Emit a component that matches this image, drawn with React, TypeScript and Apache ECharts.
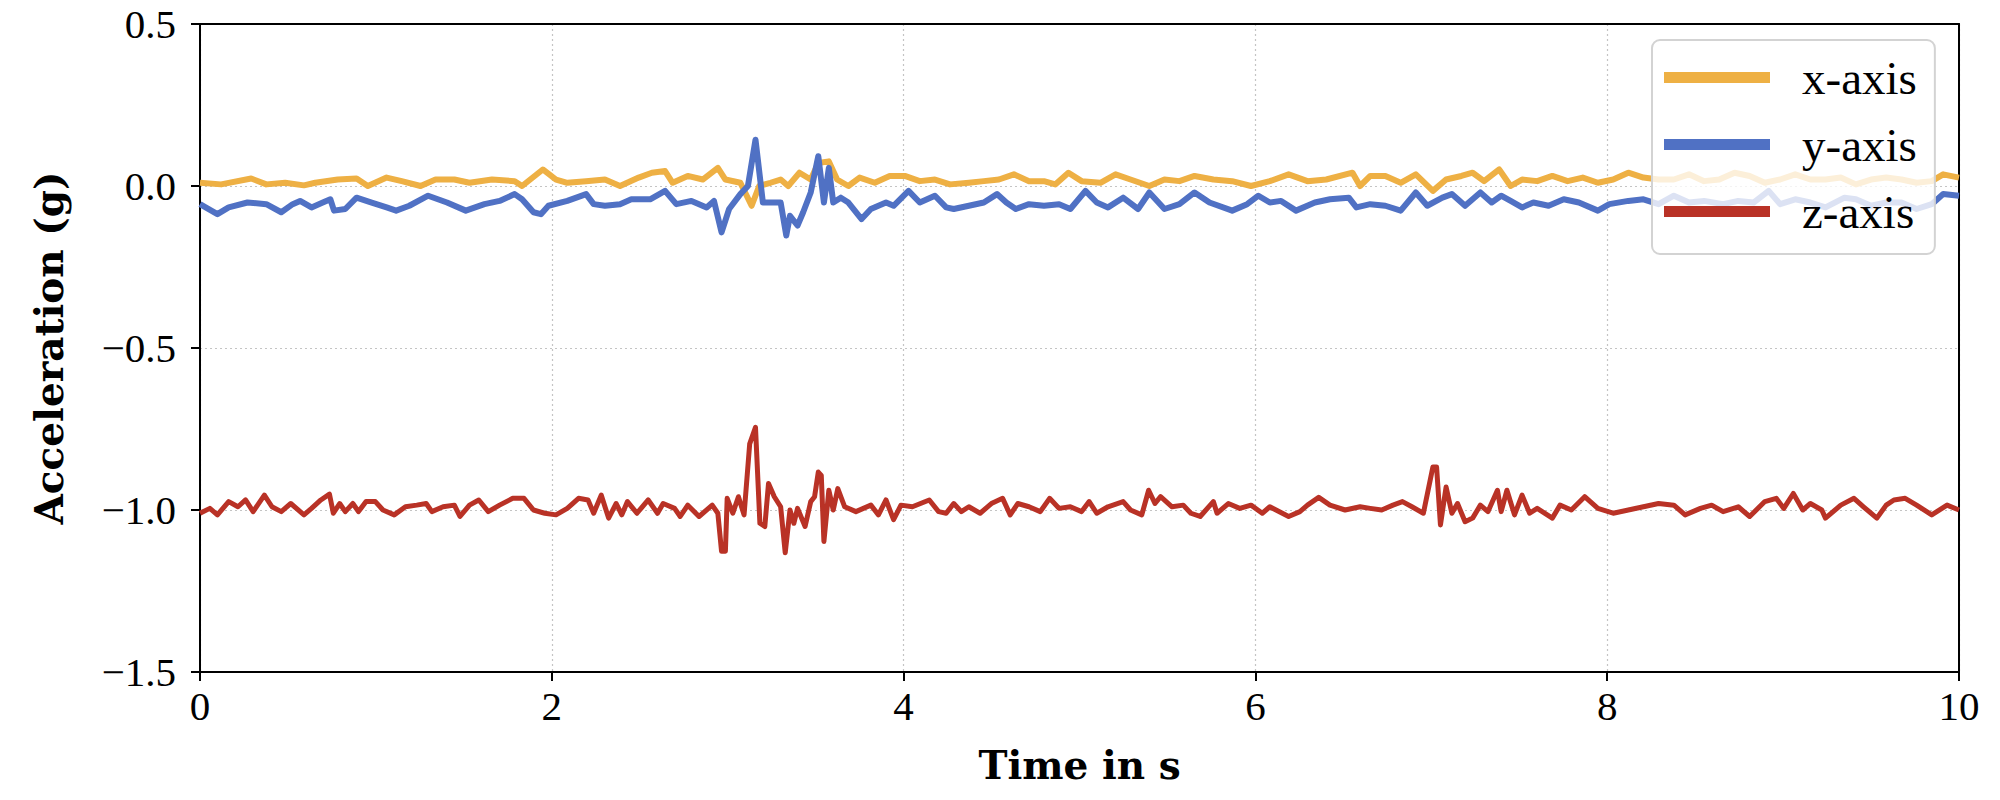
import React, { useEffect, useRef } from "react";
import * as echarts from "echarts";

const seriesNames = ["x-axis", "y-axis", "z-axis"];
const seriesColors = ["#EEB044", "#5071C4", "#B93226"];

// [time in s, acceleration in g]
const xAxisAccel = [
  [0, 0.010], [0.120, 0.005], [0.291, 0.023], [0.377, 0.005], [0.484, 0.010], [0.591, 0.002], [0.655, 0.010], [0.783, 0.020], [0.890, 0.023], [0.954, 0.000],
  [1.061, 0.026], [1.147, 0.015], [1.254, 0.000], [1.339, 0.020], [1.446, 0.020], [1.532, 0.010], [1.660, 0.020], [1.789, 0.015], [1.831, 0.000], [1.949, 0.051],
  [2.024, 0.020], [2.088, 0.010], [2.195, 0.015], [2.302, 0.020], [2.388, 0.000], [2.494, 0.026], [2.569, 0.041], [2.644, 0.046], [2.687, 0.010], [2.773, 0.031],
  [2.858, 0.020], [2.944, 0.056], [2.987, 0.020], [3.072, 0.010], [3.136, -0.061], [3.179, 0.000], [3.243, 0.010],
  [3.301, 0.020], [3.344, 0.000], [3.408, 0.041], [3.472, 0.020], [3.515, 0.071], [3.575, 0.076], [3.622, 0.020], [3.686, 0.000], [3.750, 0.026], [3.836, 0.010],
  [3.921, 0.031], [4.007, 0.031], [4.092, 0.015], [4.178, 0.020], [4.264, 0.005], [4.371, 0.010], [4.456, 0.015], [4.542, 0.020], [4.627, 0.036], [4.713, 0.015],
  [4.798, 0.015], [4.862, 0.005], [4.937, 0.041], [5.012, 0.015], [5.119, 0.010], [5.205, 0.036], [5.290, 0.020], [5.397, 0.000], [5.483, 0.020], [5.568, 0.015],
  [5.654, 0.031], [5.761, 0.020], [5.868, 0.015], [5.975, 0.000], [6.082, 0.015], [6.189, 0.036], [6.296, 0.015], [6.403, 0.020], [6.552, 0.041], [6.595, 0.000],
  [6.653, 0.031], [6.739, 0.031], [6.826, 0.010], [6.912, 0.036], [7.009, -0.015], [7.084, 0.020], [7.171, 0.031], [7.235, 0.041], [7.300, 0.015], [7.386, 0.051],
  [7.451, 0.000], [7.516, 0.020], [7.602, 0.015], [7.688, 0.031], [7.775, 0.015], [7.861, 0.026], [7.947, 0.010], [8.034, 0.020], [8.120, 0.041], [8.206, 0.026],
  [8.292, 0.020], [8.379, 0.020], [8.465, 0.036], [8.551, 0.015], [8.637, 0.020], [8.724, 0.041], [8.810, 0.031], [8.896, 0.010], [8.983, 0.020], [9.069, 0.036],
  [9.155, 0.020], [9.241, 0.020], [9.328, 0.026], [9.414, 0.005], [9.500, 0.020], [9.586, 0.026], [9.673, 0.020], [9.759, 0.010], [9.845, 0.015], [9.910, 0.036],
  [10.0, 0.026],
];

const yAxisAccel = [
  [0, -0.056], [0.099, -0.087], [0.163, -0.066], [0.270, -0.051], [0.377, -0.056], [0.462, -0.081], [0.527, -0.056], [0.569, -0.046], [0.634, -0.066], [0.698, -0.051],
  [0.741, -0.041], [0.762, -0.076], [0.826, -0.071], [0.890, -0.036], [0.976, -0.051], [1.061, -0.066], [1.115, -0.076], [1.190, -0.061], [1.297, -0.030], [1.404, -0.051],
  [1.511, -0.076], [1.617, -0.056], [1.703, -0.046], [1.789, -0.025], [1.831, -0.041], [1.896, -0.081], [1.938, -0.087], [1.981, -0.061], [2.088, -0.046], [2.195, -0.025],
  [2.238, -0.056], [2.302, -0.061], [2.388, -0.056], [2.452, -0.041], [2.559, -0.041], [2.644, -0.015], [2.708, -0.056], [2.794, -0.046], [2.880, -0.066], [2.922, -0.046],
  [2.965, -0.143], [3.008, -0.071], [3.072, -0.025], [3.115, 0.000], [3.158, 0.143], [3.200, -0.051], [3.265, -0.051],
  [3.301, -0.051], [3.333, -0.153], [3.354, -0.092], [3.397, -0.122], [3.429, -0.081], [3.472, -0.020], [3.515, 0.092], [3.547, -0.051], [3.575, 0.056], [3.600, -0.051],
  [3.643, -0.036], [3.686, -0.051], [3.761, -0.102], [3.814, -0.071], [3.900, -0.051], [3.943, -0.061], [4.028, -0.015], [4.092, -0.051], [4.178, -0.030], [4.242, -0.066],
  [4.285, -0.071], [4.371, -0.061], [4.456, -0.051], [4.531, -0.025], [4.584, -0.051], [4.638, -0.071], [4.713, -0.056], [4.798, -0.061], [4.884, -0.056], [4.948, -0.071],
  [5.034, -0.015], [5.098, -0.051], [5.162, -0.066], [5.248, -0.036], [5.333, -0.071], [5.397, -0.020], [5.483, -0.071], [5.568, -0.056], [5.654, -0.020], [5.739, -0.051],
  [5.868, -0.076], [5.953, -0.056], [6.017, -0.030], [6.082, -0.051], [6.146, -0.046], [6.231, -0.076], [6.338, -0.051], [6.424, -0.041], [6.531, -0.036], [6.574, -0.066],
  [6.653, -0.056], [6.739, -0.061], [6.826, -0.076], [6.912, -0.020], [6.977, -0.061], [7.063, -0.036], [7.117, -0.025], [7.192, -0.061], [7.279, -0.020], [7.343, -0.051],
  [7.397, -0.030], [7.451, -0.046], [7.516, -0.066], [7.580, -0.051], [7.667, -0.061], [7.753, -0.041], [7.839, -0.051], [7.947, -0.076], [8.012, -0.056], [8.120, -0.046],
  [8.206, -0.041], [8.292, -0.056], [8.379, -0.030], [8.465, -0.051], [8.551, -0.046], [8.659, -0.056], [8.745, -0.046], [8.832, -0.051], [8.918, -0.015], [8.983, -0.056],
  [9.069, -0.041], [9.155, -0.051], [9.241, -0.066], [9.349, -0.036], [9.414, -0.041], [9.500, -0.061], [9.586, -0.051], [9.673, -0.051], [9.759, -0.071], [9.845, -0.056],
  [9.910, -0.025], [10.0, -0.030],
];

const zAxisAccel = [
  [0, -1.010], [0.056, -0.995], [0.099, -1.015], [0.163, -0.974], [0.216, -0.990], [0.259, -0.969], [0.302, -1.005], [0.366, -0.954], [0.409, -0.990], [0.462, -1.005],
  [0.516, -0.980], [0.591, -1.015], [0.634, -0.995], [0.687, -0.969], [0.736, -0.951], [0.758, -1.010], [0.794, -0.980], [0.826, -1.005], [0.869, -0.980], [0.901, -1.005],
  [0.944, -0.974], [0.997, -0.974], [1.040, -1.000], [1.104, -1.015], [1.168, -0.990], [1.232, -0.985], [1.286, -0.980], [1.318, -1.005], [1.382, -0.990], [1.446, -0.985],
  [1.478, -1.020], [1.532, -0.985], [1.585, -0.969], [1.639, -1.005], [1.703, -0.985], [1.778, -0.964], [1.842, -0.964], [1.896, -1.000], [1.960, -1.010], [2.024, -1.015],
  [2.088, -0.995], [2.152, -0.964], [2.206, -0.969], [2.238, -1.010], [2.281, -0.954], [2.323, -1.025], [2.366, -0.980], [2.398, -1.015], [2.430, -0.974], [2.484, -1.010],
  [2.548, -0.969], [2.601, -1.010], [2.633, -0.980], [2.698, -0.995], [2.730, -1.020], [2.773, -0.985], [2.837, -1.020], [2.912, -0.985], [2.944, -1.010], [2.965, -1.127],
  [2.987, -1.127], [2.997, -0.964], [3.029, -1.010], [3.061, -0.959], [3.093, -1.015], [3.125, -0.796], [3.158, -0.745], [3.183, -1.041], [3.211, -1.051], [3.232, -0.918],
  [3.265, -0.959], [3.301, -0.990], [3.327, -1.132], [3.354, -1.000], [3.376, -1.041], [3.397, -0.995], [3.440, -1.051], [3.472, -0.974], [3.494, -0.959], [3.515, -0.883],
  [3.532, -0.893], [3.547, -1.097], [3.575, -0.939], [3.600, -1.000], [3.626, -0.934], [3.665, -0.990], [3.729, -1.005], [3.814, -0.985], [3.857, -1.015], [3.900, -0.969],
  [3.943, -1.030], [3.985, -0.985], [4.050, -0.990], [4.146, -0.969], [4.199, -1.005], [4.242, -1.010], [4.285, -0.980], [4.328, -1.005], [4.371, -0.990], [4.435, -1.010],
  [4.499, -0.980], [4.563, -0.964], [4.606, -1.015], [4.649, -0.980], [4.713, -0.990], [4.777, -1.005], [4.830, -0.964], [4.884, -0.995], [4.948, -0.990], [5.012, -1.005],
  [5.055, -0.974], [5.098, -1.010], [5.162, -0.990], [5.248, -0.974], [5.290, -1.000], [5.354, -1.015], [5.393, -0.939], [5.429, -0.980], [5.461, -0.959], [5.526, -0.990],
  [5.590, -0.985], [5.633, -1.010], [5.686, -1.020], [5.761, -0.974], [5.782, -1.010], [5.846, -0.980], [5.911, -0.995], [5.975, -0.985], [6.039, -1.010], [6.082, -0.990],
  [6.189, -1.020], [6.253, -1.005], [6.296, -0.985], [6.360, -0.961], [6.424, -0.985], [6.510, -1.000], [6.595, -0.990],
  [6.653, -0.995], [6.718, -1.000], [6.782, -0.985], [6.836, -0.974], [6.890, -0.990], [6.955, -1.010], [7.009, -0.867], [7.030, -0.867], [7.052, -1.046], [7.084, -0.929],
  [7.117, -1.010], [7.149, -0.980], [7.192, -1.036], [7.235, -1.025], [7.279, -0.985], [7.322, -1.005], [7.376, -0.939], [7.397, -1.005], [7.430, -0.939], [7.473, -1.015],
  [7.516, -0.954], [7.559, -1.010], [7.602, -0.995], [7.688, -1.025], [7.732, -0.985], [7.796, -1.000], [7.872, -0.959], [7.947, -0.995], [8.034, -1.010], [8.120, -1.000],
  [8.206, -0.990], [8.292, -0.980], [8.379, -0.985], [8.443, -1.015], [8.530, -0.995], [8.594, -0.985], [8.659, -1.005], [8.745, -0.990], [8.810, -1.020], [8.896, -0.974],
  [8.961, -0.964], [9.004, -0.995], [9.058, -0.949], [9.112, -1.000], [9.155, -0.980], [9.220, -1.000], [9.241, -1.025], [9.328, -0.985], [9.403, -0.964], [9.457, -0.990],
  [9.533, -1.025], [9.586, -0.985], [9.630, -0.969], [9.694, -0.964], [9.759, -0.985], [9.845, -1.015], [9.932, -0.985], [10.0, -1.000],
];

const seriesData = [xAxisAccel, yAxisAccel, zAxisAccel];
const seriesWidths = [6, 6, 5];

const xMin = 0;
const xMax = 10;
const xStep = 2;
const yMin = -1.5;
const yMax = 0.5;
const yStep = 0.5;

export default function App() {
  const ref = useRef<HTMLDivElement>(null);
  useEffect(() => {
    const chart = echarts.init(ref.current!, null, { renderer: "svg" });
    const tickFont = { fontFamily: "Liberation Serif", fontSize: 41, color: "#000", lineHeight: 28 };
    const titleFont = { fontFamily: "DejaVu Serif", fontWeight: "bold", fontSize: 39, color: "#000" };
    const gridLine = { show: true, lineStyle: { type: [2, 3], color: "#c4c4c4", width: 1.2 } };
    const spine = { show: true, onZero: false, lineStyle: { color: "#000", width: 2 } };
    chart.setOption({
      animation: false,
      backgroundColor: "#fff",
      grid: { left: 200, right: 41, top: 24, bottom: 128 },
      legend: {
        data: seriesNames,
        orient: "vertical",
        left: 1652,
        top: 40,
        padding: [14, 18, 19, 12],
        itemWidth: 106,
        itemHeight: 11,
        itemGap: 20,
        icon: "rect",
        backgroundColor: "rgba(255,255,255,0.8)",
        borderColor: "#d3d3d3",
        borderWidth: 2,
        borderRadius: 8,
        textStyle: { fontFamily: "Liberation Serif", fontSize: 47, color: "#000", lineHeight: 40, padding: [0, 0, 0, 27] },
      },
      xAxis: [
        {
          type: "value",
          min: xMin,
          max: xMax,
          interval: xStep,
          name: "Time in s",
          nameLocation: "middle",
          nameGap: 73,
          nameTextStyle: titleFont,
          axisLine: spine,
          axisTick: { show: true, length: 9, lineStyle: { color: "#000", width: 2 } },
          axisLabel: { ...tickFont, margin: 20, formatter: (v: number) => String(v) },
          splitLine: gridLine,
        },
        {
          type: "value",
          position: "top",
          min: xMin,
          max: xMax,
          interval: xStep,
          axisLine: spine,
          axisTick: { show: false },
          axisLabel: { show: false },
          splitLine: { show: false },
        },
      ],
      yAxis: [
        {
          type: "value",
          min: yMin,
          max: yMax,
          interval: yStep,
          name: "Acceleration (g)",
          nameLocation: "middle",
          nameGap: 132,
          nameTextStyle: titleFont,
          axisLine: spine,
          axisTick: { show: true, length: 9, lineStyle: { color: "#000", width: 2 } },
          axisLabel: { ...tickFont, margin: 24, formatter: (v: number) => v.toFixed(1).replace("-", "\u2212") },
          splitLine: gridLine,
        },
        {
          type: "value",
          position: "right",
          min: yMin,
          max: yMax,
          interval: yStep,
          axisLine: spine,
          axisTick: { show: false },
          axisLabel: { show: false },
          splitLine: { show: false },
        },
      ],
      series: seriesNames.map((name, i) => ({
        name,
        type: "line",
        xAxisIndex: 0,
        yAxisIndex: 0,
        data: seriesData[i],
        color: seriesColors[i],
        showSymbol: false,
        symbol: "none",
        silent: true,
        z: 2 + i,
        lineStyle: { color: seriesColors[i], width: seriesWidths[i], join: "round" },
      })),
    });
    return () => chart.dispose();
  }, []);
  return (
    <div
      ref={ref}
      style={{ position: "fixed", left: 0, top: 0, width: 2000, height: 800, background: "#fff" }}
    />
  );
}
